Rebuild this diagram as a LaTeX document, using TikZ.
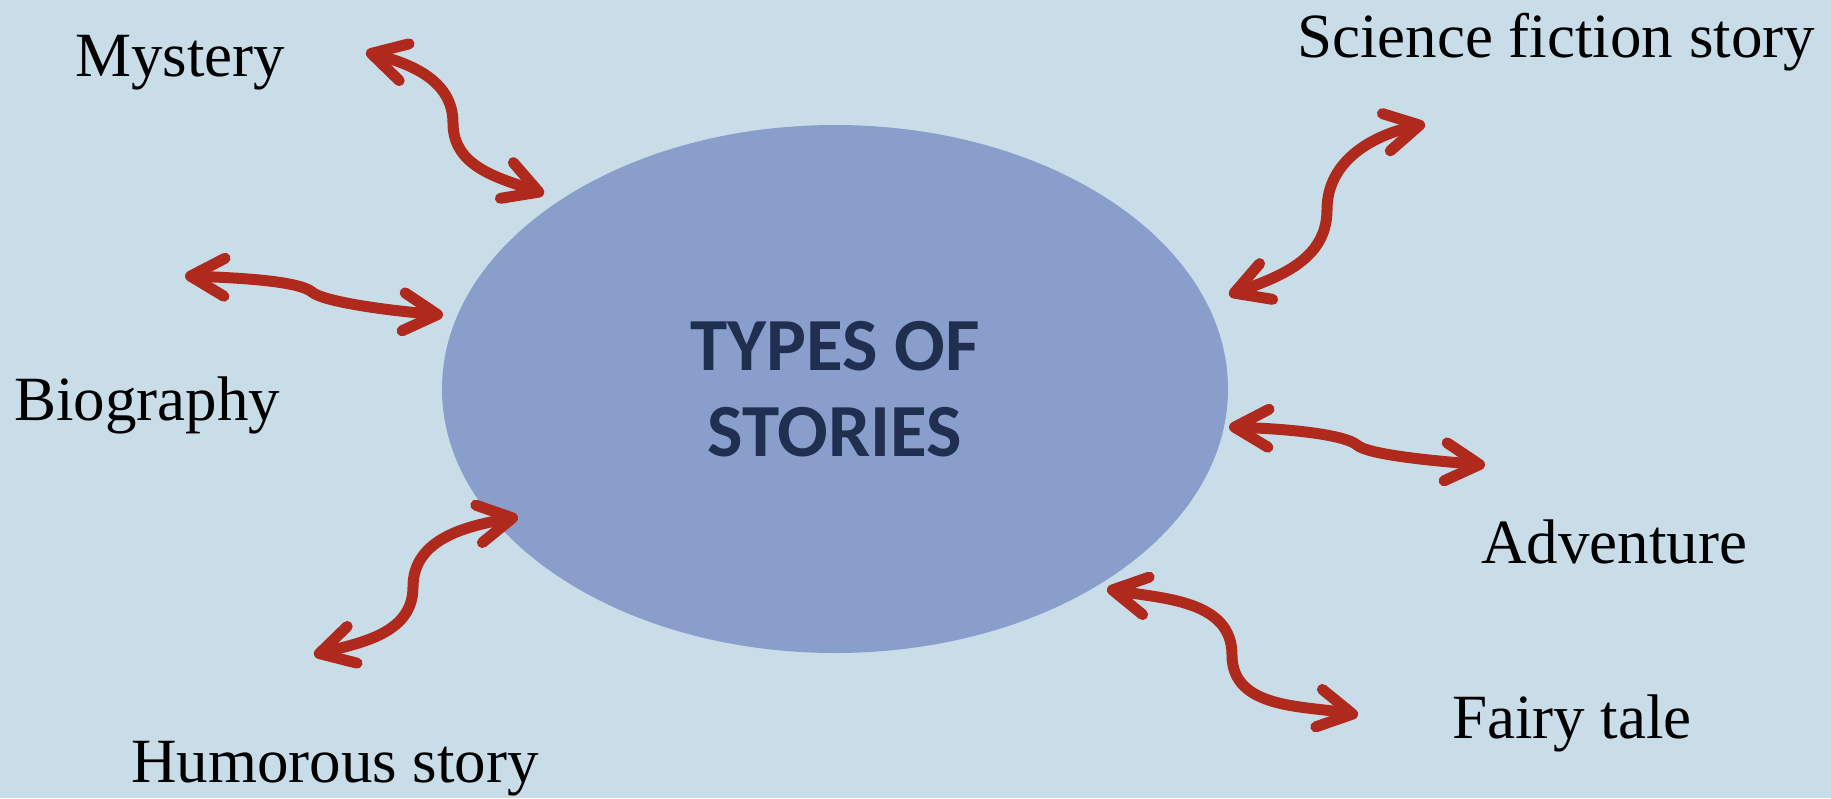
\documentclass[tikz,border=0pt]{standalone}
\usepackage{fontspec}
\setmainfont{Liberation Serif}
\newfontfamily\hubfont{Carlito}
\usetikzlibrary{shapes.geometric,arrows.meta}
\definecolor{bgblue}{RGB}{201,221,233}
\definecolor{hubblue}{RGB}{138,158,203}
\definecolor{hubtext}{RGB}{32,46,80}
\definecolor{linkred}{RGB}{175,41,29}
\begin{document}
\begin{tikzpicture}[x=0.5pt,y=-0.5pt,
    hub/.style={ellipse,fill=hubblue,minimum width=393pt,minimum height=264pt,
                inner sep=0pt,align=center,text=hubtext,
                font=\hubfont\bfseries\fontsize{37.5}{43}\selectfont},
    storytype/.style={anchor=base,font=\fontsize{31.5}{36}\selectfont},
    link/.style={draw=linkred,line width=5.5pt,
                 {Straight Barb[length=17pt,width=19pt,round]}-{Straight Barb[length=17pt,width=19pt,round]}}
  ]
  \path[use as bounding box,fill=bgblue] (0,0) rectangle (1831,798);

  \node[hub] (hub) at (835,389) {TYPES OF\\STORIES};

  \node[storytype] (mystery)   at (180,76)  {Mystery};
  \node[storytype] (scifi)     at (1556,57) {Science fiction story};
  \node[storytype] (biography) at (147,420) {Biography};
  \node[storytype] (adventure) at (1614,563) {Adventure};
  \node[storytype] (fairy)     at (1572,738) {Fairy tale};
  \node[storytype] (humorous)  at (335,782) {Humorous story};

  % ends and turning points of the arrows
  \coordinate (my-a) at (366,52);   \coordinate (my-m) at (453,123);  \coordinate (my-b) at (544,194);
  \coordinate (sf-b) at (1229,295); \coordinate (sf-m) at (1327,210); \coordinate (sf-a) at (1425,124);
  \coordinate (bi-a) at (185,276);  \coordinate (bi-m) at (312,292);  \coordinate (bi-b) at (443,315);
  \coordinate (ad-a) at (1229,427); \coordinate (ad-m) at (1357,445); \coordinate (ad-b) at (1485,465);
  \coordinate (hu-b) at (314,655);  \coordinate (hu-m) at (413,587);  \coordinate (hu-a) at (518,517);
  \coordinate (fa-a) at (1107,589); \coordinate (fa-m) at (1232,655); \coordinate (fa-b) at (1358,715);

  \path[link] (my-a) to[out=-15,in=90] (my-m) to[out=-90,in=160] (my-b);
  \path[link] (sf-b) to[out=20,in=-90] (sf-m) to[out=90,in=192] (sf-a);
  \path[link] (bi-a) .. controls +(64,2) and +(-12,-10) .. (bi-m)
                     .. controls +(10,9) and +(-62,-5) .. (bi-b);
  \path[link] (ad-a) .. controls +(64,2) and +(-12,-10) .. (ad-m)
                     .. controls +(10,9) and +(-62,-5) .. (ad-b);
  \path[link] (hu-b) to[out=15,in=-90] (hu-m) to[out=90,in=190] (hu-a);
  \path[link] (fa-a) to[out=-10,in=90] (fa-m) to[out=-90,in=170] (fa-b);
\end{tikzpicture}
\end{document}
